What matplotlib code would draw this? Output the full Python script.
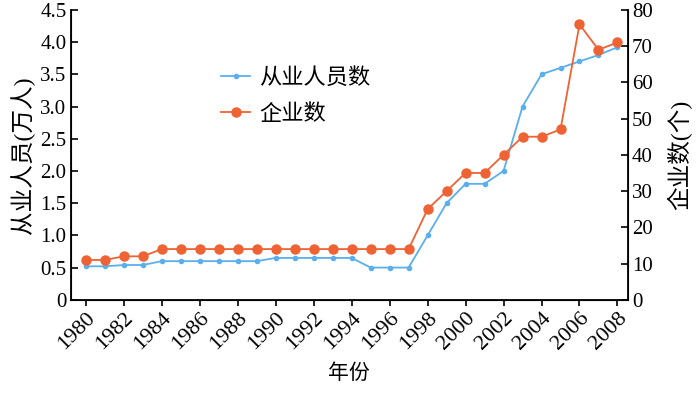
import matplotlib
matplotlib.use("Agg")
import matplotlib.pyplot as plt

plt.rcParams['font.family'] = ['Liberation Serif', 'Noto Sans CJK SC']
plt.rcParams['axes.unicode_minus'] = False

years = list(range(1980, 2009))
employees = [0.52, 0.52, 0.54, 0.54, 0.6, 0.6, 0.6, 0.6, 0.6, 0.6,
             0.65, 0.65, 0.65, 0.65, 0.65, 0.5, 0.5, 0.5, 1.0, 1.5,
             1.8, 1.8, 2.0, 3.0, 3.5, 3.6, 3.7, 3.8, 3.92]
firms = [11, 11, 12, 12, 14, 14, 14, 14, 14, 14,
         14, 14, 14, 14, 14, 14, 14, 14, 25, 30,
         35, 35, 40, 45, 45, 47, 76, 69, 71]

blue = '#5aafee'
orange = '#ef6233'

fig = plt.figure(figsize=(7, 3.95), dpi=100)
ax1 = fig.add_axes([0.101, 0.241, 0.796, 0.734])
ax2 = ax1.twinx()

l1, = ax1.plot(years, employees, '-', color=blue, marker='o', markersize=3, lw=1.3, label='从业人员数')
l2, = ax2.plot(years, firms, '-', color=orange, marker='o', markersize=6.5, lw=1.3, label='企业数')

ax1.set_xlim(1979.2, 2008.55)
ax1.set_ylim(0, 4.5)
ax2.set_ylim(0, 80)
ax1.set_yticks([0, 0.5, 1.0, 1.5, 2.0, 2.5, 3.0, 3.5, 4.0, 4.5])
ax1.set_yticklabels(['0', '0.5', '1.0', '1.5', '2.0', '2.5', '3.0', '3.5', '4.0', '4.5'])
ax2.set_yticks(range(0, 81, 10))
ax1.set_xticks(range(1980, 2009, 2))
ax1.set_xticklabels([str(y) for y in range(1980, 2009, 2)], rotation=45, ha='right', rotation_mode='anchor')

for ax in (ax1, ax2):
    ax.spines['top'].set_visible(False)
    ax.tick_params(labelsize=15, width=1.2)
ax1.tick_params(axis='x', labelsize=16)
ax1.tick_params(axis='y', direction='in', length=5, pad=3)
ax2.tick_params(axis='y', direction='in', length=5, pad=3)
ax1.tick_params(axis='x', direction='out', length=4, pad=2)
for s in ('left', 'bottom'):
    ax1.spines[s].set_linewidth(1.3)
ax2.spines['right'].set_linewidth(1.3)

ax1.set_xlabel('年份', fontsize=15, labelpad=8)
ax1.set_ylabel('从业人员(万人)', fontsize=17, labelpad=4)
ax2.set_ylabel('企业数(个)', fontsize=17, labelpad=10)

ax1.legend(handles=[l1, l2], loc='upper left', bbox_to_anchor=(0.27, 0.80), frameon=False,
           fontsize=16, handlelength=1.3, handletextpad=0.4, labelspacing=0.7,
           borderaxespad=0, borderpad=0)

fig.savefig('out.png', dpi=100)
